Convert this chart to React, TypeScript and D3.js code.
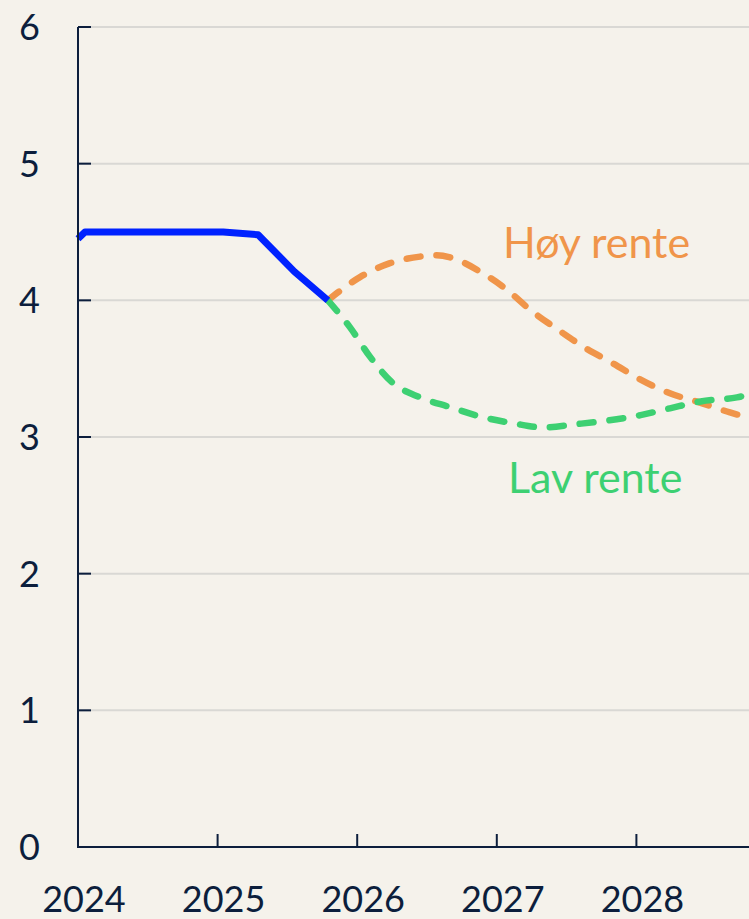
import React, { useEffect } from 'react';
import * as d3 from 'd3';

// Styringsrente, faktisk og to banealternativer (år som desimaltall)
const actualYears = [2024.0, 2024.05, 2025.04, 2025.29, 2025.55, 2025.79];
const actualRate = [4.45, 4.5, 4.5, 4.48, 4.21, 4.0];

const highYears = [2025.79, 2026.02, 2026.23, 2026.45, 2026.57, 2026.68, 2026.88, 2027.07, 2027.24, 2027.46, 2027.62, 2027.83, 2028.03, 2028.24, 2028.46, 2028.67, 2028.81];
const highRate = [4.0, 4.17, 4.27, 4.32, 4.33, 4.31, 4.21, 4.08, 3.93, 3.77, 3.66, 3.54, 3.42, 3.32, 3.25, 3.18, 3.14];

const lowYears = [2025.79, 2025.95, 2026.09, 2026.25, 2026.45, 2026.66, 2026.88, 2027.12, 2027.33, 2027.58, 2027.79, 2028.03, 2028.24, 2028.46, 2028.72, 2028.81];
const lowRate = [4.0, 3.8, 3.59, 3.4, 3.29, 3.22, 3.15, 3.1, 3.07, 3.095, 3.12, 3.16, 3.21, 3.26, 3.29, 3.31];

const yTicks = [0, 1, 2, 3, 4, 5, 6];
const xTicks = [2024, 2025, 2026, 2027, 2028];

const width = 749;
const height = 919;
const margin = { top: 27, left: 78, bottom: 72 };

const navy = '#0c1e3c';
const font = 'Lato, "Open Sans", sans-serif';

const App = () => {
  useEffect(() => {
    document.body.style.margin = '0';
    document.body.style.background = '#f5f2eb';
  }, []);

  const x = d3.scaleLinear()
    .domain([2024, 2024 + (width - margin.left) / 139.6])
    .range([margin.left, width]);

  const y = d3.scaleLinear()
    .domain([0, 6])
    .range([height - margin.bottom, margin.top]);

  const straight = d3.line<number>()
    .x((d, i) => x(actualYears[i]))
    .y(d => y(d));

  const smooth = (years: number[]) => d3.line<number>()
    .x((d, i) => x(years[i]))
    .y(d => y(d))
    .curve(d3.curveMonotoneX);

  const x0 = margin.left;
  const yBase = y(0);

  return (
    <svg width={width} height={height} style={{ display: 'block', background: '#f5f2eb' }}>
      {/* rutenett */}
      {yTicks.filter(t => t > 0).map(t => (
        <line key={'g' + t} x1={x0} x2={width} y1={y(t)} y2={y(t)} stroke="#d9d8d4" strokeWidth={2} />
      ))}

      {/* linjer */}
      <path d={smooth(highYears)(highRate) || ''} fill="none" stroke="#f0954a" strokeWidth={6.5}
        strokeDasharray="14 16" strokeLinecap="round" />
      <path d={smooth(lowYears)(lowRate) || ''} fill="none" stroke="#3dd072" strokeWidth={6.5}
        strokeDasharray="14 16" strokeLinecap="round" />
      <path d={straight(actualRate) || ''} fill="none" stroke="#0022ff" strokeWidth={7} strokeLinejoin="round" />

      {/* akser */}
      <line x1={x0} x2={x0} y1={y(6)} y2={yBase + 1} stroke={navy} strokeWidth={2} />
      <line x1={x0} x2={width} y1={yBase} y2={yBase} stroke={navy} strokeWidth={2} />
      {yTicks.map(t => (
        <g key={'y' + t}>
          <line x1={x0} x2={x0 + 13} y1={y(t)} y2={y(t)} stroke={navy} strokeWidth={2} />
          <text x={40} y={y(t) + 13} textAnchor="end" fontFamily={font} fontSize={36} fill={navy}>{t}</text>
        </g>
      ))}
      {xTicks.map(t => (
        <g key={'x' + t}>
          <line x1={x(t)} x2={x(t)} y1={yBase} y2={yBase - 13} stroke={navy} strokeWidth={2} />
          <text x={x(t) + 6} y={912} textAnchor="middle" fontFamily={font} fontSize={36} fill={navy}>{t}</text>
        </g>
      ))}

      {/* etiketter */}
      <text x={503} y={258} fontFamily={font} fontSize={43} fill="#f0954a">Høy rente</text>
      <text x={508} y={493} fontFamily={font} fontSize={43} fill="#3dd072">Lav rente</text>
    </svg>
  );
};

export default App;
